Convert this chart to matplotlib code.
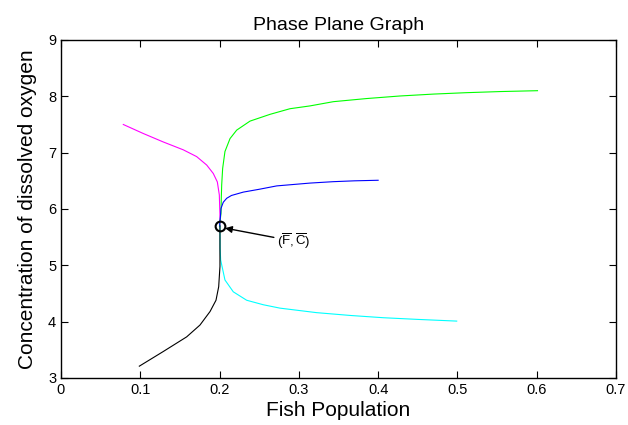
import numpy as np
import matplotlib
matplotlib.use("Agg")
import matplotlib.pyplot as plt

plt.rcParams['font.family'] = ['Liberation Sans', 'DejaVu Sans']
plt.rcParams['mathtext.fontset'] = 'custom'
plt.rcParams['mathtext.rm'] = 'Liberation Sans'
plt.rcParams['mathtext.it'] = 'Liberation Sans'

# trajectories (fish population, dissolved oxygen)
green_x = [0.2, 0.2008, 0.2018, 0.2022, 0.2027, 0.2039, 0.2068, 0.2132, 0.2216, 0.2384, 0.2636,
           0.2888, 0.3141, 0.3435, 0.3850, 0.4275, 0.4700, 0.5117, 0.5550, 0.601]
green_y = [5.70, 5.80, 5.92, 6.20, 6.43, 6.72, 7.02, 7.25, 7.40, 7.56, 7.68,
           7.78, 7.83, 7.905, 7.96, 8.006, 8.04, 8.065, 8.085, 8.10]

blue_x = [0.2, 0.2010, 0.2018, 0.2047, 0.2090, 0.2150, 0.2300, 0.2500, 0.2721, 0.3141, 0.3435, 0.3700, 0.4]
blue_y = [5.70, 5.85, 6.01, 6.12, 6.19, 6.24, 6.30, 6.35, 6.41, 6.46, 6.485, 6.50, 6.51]

magenta_x = [0.0786, 0.1038, 0.129, 0.1543, 0.1711, 0.1838, 0.1921, 0.1972, 0.1997, 0.2005, 0.2005]
magenta_y = [7.50, 7.34, 7.19, 7.05, 6.93, 6.78, 6.63, 6.48, 6.25, 5.89, 5.70]

cyan_x = [0.2005, 0.2007, 0.2014, 0.2068, 0.2173, 0.2342, 0.2552, 0.2762, 0.3224, 0.3650, 0.4065, 0.4500, 0.4991]
cyan_y = [5.70, 5.30, 5.095, 4.74, 4.53, 4.38, 4.30, 4.24, 4.16, 4.11, 4.07, 4.04, 4.01]

black_x = [0.0988, 0.129, 0.1585, 0.1753, 0.188, 0.1955, 0.1989, 0.2005, 0.2005, 0.2005]
black_y = [3.21, 3.47, 3.73, 3.94, 4.18, 4.38, 4.62, 4.98, 5.45, 5.70]

eq_x, eq_y = 0.2005, 5.69

fig = plt.figure(figsize=(6.28, 4.25), dpi=100)
ax = fig.add_axes([0.0971, 0.1106, 0.8838, 0.7953])

ax.plot(magenta_x, magenta_y, color='#ff00ff', lw=0.8)
ax.plot(green_x, green_y, color='#00ff00', lw=0.8)
ax.plot(blue_x, blue_y, color='#0000ff', lw=0.8)
ax.plot(cyan_x, cyan_y, color='#00ffff', lw=0.8)
ax.plot(black_x, black_y, color='black', lw=0.8)
ax.plot([eq_x], [eq_y], 'o', mfc='none', mec='black', ms=7, mew=1.5)

ax.annotate(r'$(\overline{F}, \overline{C})$', xy=(0.207, 5.66), xytext=(0.272, 5.43),
            fontsize=9.5, va='center', ha='left',
            arrowprops=dict(arrowstyle='-|>', color='black', lw=1, mutation_scale=10,
                            shrinkA=0, shrinkB=0))

ax.set_xlim(0, 0.7)
ax.set_ylim(3, 9)
ax.set_xticks(np.arange(0, 0.71, 0.1))
ax.set_xticklabels(['0', '0.1', '0.2', '0.3', '0.4', '0.5', '0.6', '0.7'])
ax.set_yticks(range(3, 10))
ax.tick_params(direction='in', top=True, right=True, length=5, labelsize=10.5)
for s in ax.spines.values():
    s.set_linewidth(1)

ax.set_title('Phase Plane Graph', fontsize=14, pad=7)
ax.set_xlabel('Fish Population', fontsize=15, labelpad=3)
ax.set_ylabel('Concentration of dissolved oxygen', fontsize=15, labelpad=8)

fig.savefig('out.png', dpi=100)
